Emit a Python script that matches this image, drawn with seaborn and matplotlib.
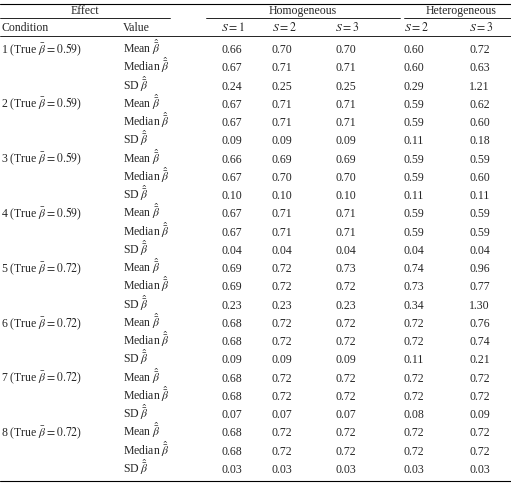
import seaborn as sns
import matplotlib.pyplot as plt

sns.set_theme(style="white")
plt.rcParams['font.family'] = ['Liberation Serif', 'DejaVu Serif']
plt.rcParams['mathtext.fontset'] = 'stix'

conditions = ["1 (True $\\bar{\\beta} = 0.59$)", "2 (True $\\bar{\\beta} = 0.59$)",
              "3 (True $\\bar{\\beta} = 0.59$)", "4 (True $\\bar{\\beta} = 0.59$)",
              "5 (True $\\bar{\\beta} = 0.72$)", "6 (True $\\bar{\\beta} = 0.72$)",
              "7 (True $\\bar{\\beta} = 0.72$)", "8 (True $\\bar{\\beta} = 0.72$)"]
value_labels = ["Mean $\\hat{\\bar{\\beta}}$", "Median $\\hat{\\bar{\\beta}}$", "SD $\\hat{\\bar{\\beta}}$"]
col_labels = ["$S = 1$", "$S = 2$", "$S = 3$", "$S = 2$", "$S = 3$"]

values = [
    ["0.66", "0.70", "0.70", "0.60", "0.72"],
    ["0.67", "0.71", "0.71", "0.60", "0.63"],
    ["0.24", "0.25", "0.25", "0.29", "1.21"],
    ["0.67", "0.71", "0.71", "0.59", "0.62"],
    ["0.67", "0.71", "0.71", "0.59", "0.60"],
    ["0.09", "0.09", "0.09", "0.11", "0.18"],
    ["0.66", "0.69", "0.69", "0.59", "0.59"],
    ["0.67", "0.70", "0.70", "0.59", "0.60"],
    ["0.10", "0.10", "0.10", "0.11", "0.11"],
    ["0.67", "0.71", "0.71", "0.59", "0.59"],
    ["0.67", "0.71", "0.71", "0.59", "0.59"],
    ["0.04", "0.04", "0.04", "0.04", "0.04"],
    ["0.69", "0.72", "0.73", "0.74", "0.96"],
    ["0.69", "0.72", "0.72", "0.73", "0.77"],
    ["0.23", "0.23", "0.23", "0.34", "1.30"],
    ["0.68", "0.72", "0.72", "0.72", "0.76"],
    ["0.68", "0.72", "0.72", "0.72", "0.74"],
    ["0.09", "0.09", "0.09", "0.11", "0.21"],
    ["0.68", "0.72", "0.72", "0.72", "0.72"],
    ["0.68", "0.72", "0.72", "0.72", "0.72"],
    ["0.07", "0.07", "0.07", "0.08", "0.09"],
    ["0.68", "0.72", "0.72", "0.72", "0.72"],
    ["0.68", "0.72", "0.72", "0.72", "0.72"],
    ["0.03", "0.03", "0.03", "0.03", "0.03"],
]

fig = plt.figure(figsize=(5.11, 4.83), dpi=100)
ax = fig.add_axes([0, 0, 1, 1])
ax.set_xlim(0, 511)
ax.set_ylim(483, 0)
ax.axis('off')

fs = 8.5
col_x = [221, 272, 335, 404, 469]
kw = dict(ha='left', va='baseline', fontsize=fs)

# rules
ax.plot([0, 511], [4, 4], color='black', lw=0.8)
ax.plot([0, 170], [18, 18], color='black', lw=0.6)
ax.plot([206, 400], [18, 18], color='black', lw=0.6)
ax.plot([404, 511], [18, 18], color='black', lw=0.6)
ax.plot([0, 511], [36, 36], color='black', lw=0.6)
ax.plot([0, 511], [481, 481], color='black', lw=0.8)

ax.text(85, 14, "Effect", ha='center', va='baseline', fontsize=fs)
ax.text(303, 14, "Homogeneous", ha='center', va='baseline', fontsize=fs)
ax.text(461, 14, "Heterogeneous", ha='center', va='baseline', fontsize=fs)
ax.text(1, 31, "Condition", **kw)
ax.text(123, 31, "Value", **kw)
for x, lab in zip(col_x, col_labels):
    ax.text(x, 31, lab, **kw)

row_h = (470 - 50) / 23
for i, row in enumerate(values):
    y = 53 + i * row_h
    if i % 3 == 0:
        ax.text(1, y, conditions[i // 3], **kw)
    ax.text(123, y, value_labels[i % 3], **kw)
    for x, v in zip(col_x, row):
        ax.text(x, y, v, **kw)

fig.savefig("out.png", dpi=100)
